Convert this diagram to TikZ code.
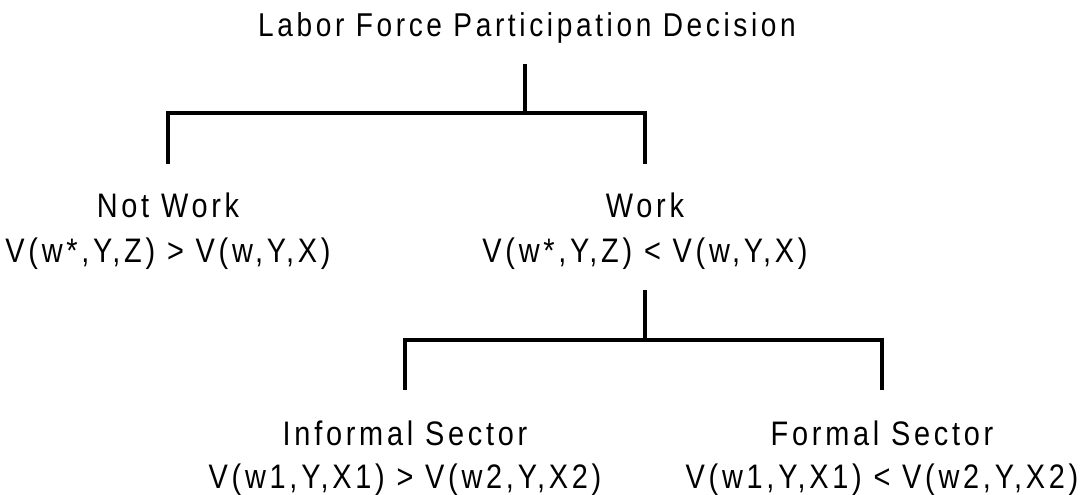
\documentclass[tikz,border=0pt]{standalone}
\usepackage{fontspec}
\setmainfont{Liberation Sans}[FakeStretch=0.85,LetterSpace=11]
\begin{document}
\begin{tikzpicture}[x=1pt,y=-1pt,
  lbl/.style={anchor=base,inner sep=0pt,font=\fontsize{34}{40}\selectfont},
  ttl/.style={anchor=base,inner sep=0pt,font=\fontsize{33}{38}\selectfont},
  branch/.style={line width=4pt,line join=miter,line cap=rect}]
\useasboundingbox (0,0) rectangle (1081,495);
% texts
\node[ttl] (title) at (527,37) {Labor Force Participation Decision};
\node[lbl] (nw)  at (168,217) {Not Work};
\node[lbl] (nwv) at (168,262) {V(w*,Y,Z) > V(w,Y,X)};
\node[lbl] (wk)  at (645,217) {Work};
\node[lbl] (wkv) at (645,262) {V(w*,Y,Z) < V(w,Y,X)};
\node[lbl] (inf)  at (405,445) {Informal Sector};
\node[lbl] (infv) at (405,488) {V(w1,Y,X1) > V(w2,Y,X2)};
\node[lbl] (frm)  at (882,445) {Formal Sector};
\node[lbl] (frmv) at (882,488) {V(w1,Y,X1) < V(w2,Y,X2)};
% joints
\coordinate (t0) at (525,66);
\coordinate (t1) at (525,113);
\coordinate (l0) at (168,113);
\coordinate (l1) at (168,162);
\coordinate (r0) at (645,113);
\coordinate (r1) at (645,162);
\coordinate (w0) at (645,292);
\coordinate (w1) at (645,340);
\coordinate (i0) at (405,340);
\coordinate (i1) at (405,388);
\coordinate (f0) at (882,340);
\coordinate (f1) at (882,388);
\draw[branch] (t0) -- (t1);
\draw[branch] (l1) -- (l0) -- (r0) -- (r1);
\draw[branch] (w0) -- (w1);
\draw[branch] (i1) -- (i0) -- (f0) -- (f1);
\end{tikzpicture}
\end{document}
